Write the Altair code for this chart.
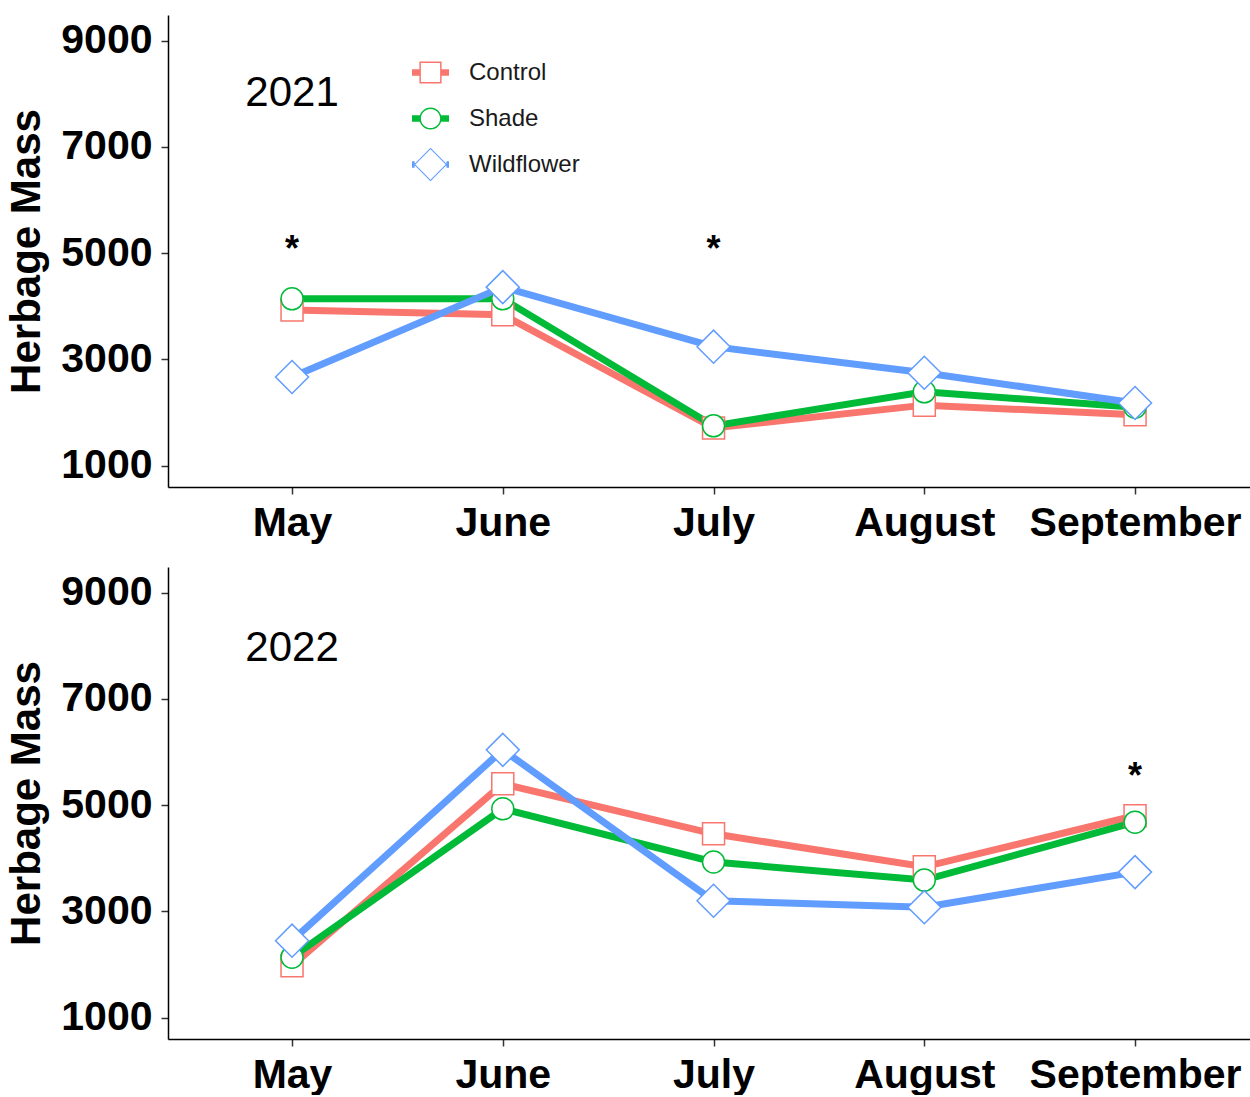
import altair as alt
import pandas as pd

# ---------------- data ----------------
months = ["May", "June", "July", "August", "September"]
treatments = ["Control", "Shade", "Wildflower"]
colors = ["#F8766D", "#00BA38", "#619CFF"]
shapes = ["square", "circle", "diamond"]
marker_sizes = [484, 484, 1089]

control_2021 = [3930, 3840, 1710, 2140, 1960]
shade_2021 = [4140, 4140, 1750, 2390, 2100]
wildflower_2021 = [2670, 4360, 3240, 2750, 2180]

control_2022 = [1980, 5400, 4460, 3840, 4800]
shade_2022 = [2140, 4930, 3930, 3590, 4680]
wildflower_2022 = [2450, 6040, 3200, 3080, 3740]

star_2021_months = ["May", "July"]
star_2021_y = [4860, 4860]
star_2022_months = ["September"]
star_2022_y = [5320]

year_labels = ["2021", "2022"]
year_label_month = ["May", "May"]
year_label_y = [7760, 7720]

y_ticks = [1000, 3000, 5000, 7000, 9000]
y_domain = [600, 9480]

# legend symbols: line segment + open marker (custom paths in a [-1,1] box)
legend_paths = [
    "M-1,-0.17H-0.6V0.17H-1Z M0.6,-0.17H1V0.17H0.6Z "
    "M-0.6,-0.6H0.6V0.6H-0.6Z M-0.52,-0.52V0.52H0.52V-0.52Z "
    "M0,-1L0,-1M0,1L0,1",
    "M-1,-0.17H-0.58V0.17H-1Z M0.58,-0.17H1V0.17H0.58Z "
    "M0.6,0A0.6,0.6,0,1,1,-0.6,0A0.6,0.6,0,1,1,0.6,0Z "
    "M0.52,0A0.52,0.52,0,1,0,-0.52,0A0.52,0.52,0,1,0,0.52,0Z "
    "M0,-1L0,-1M0,1L0,1",
    "M-1,-0.17H-0.86V0.17H-1Z M0.86,-0.17H1V0.17H0.86Z "
    "M-0.9,0L0,-0.9L0.9,0L0,0.9Z M-0.82,0L0,0.82L0.82,0L0,-0.82Z "
    "M0,-1L0,-1M0,1L0,1",
]


def make_df(series):
    rows = []
    for t, vals in zip(treatments, series):
        for m, v in zip(months, vals):
            rows.append({"Month": m, "Treatment": t, "Mass": v})
    return pd.DataFrame(rows)


df21 = make_df([control_2021, shade_2021, wildflower_2021])
df22 = make_df([control_2022, shade_2022, wildflower_2022])
stars21 = pd.DataFrame({"Month": star_2021_months, "Mass": star_2021_y, "label": "*"})
stars22 = pd.DataFrame({"Month": star_2022_months, "Mass": star_2022_y, "label": "*"})
year21 = pd.DataFrame({"Month": [year_label_month[0]], "Mass": [year_label_y[0]], "label": [year_labels[0]]})
year22 = pd.DataFrame({"Month": [year_label_month[1]], "Mass": [year_label_y[1]], "label": [year_labels[1]]})

FONT = "Liberation Sans"
W, H = 1082, 472


def panel(df, stars, year, with_legend):
    x = alt.X(
        "Month:N", sort=months,
        scale=alt.Scale(type="point", padding=0.567, align=0.519, domain=months),
        axis=alt.Axis(title=None, labelAngle=0, labelPadding=9, labelOverlap=False,
                      labelLimit=400),
    )
    y = alt.Y(
        "Mass:Q",
        scale=alt.Scale(domain=y_domain, nice=False, zero=False),
        axis=alt.Axis(values=y_ticks, format="d", title="Herbage Mass",
                      labelPadding=9, titlePadding=12, titleFontSize=42),
    )
    layers = []
    for t, c in zip(treatments, colors):
        layers.append(
            alt.Chart(df).transform_filter(alt.datum.Treatment == t)
            .mark_line(color=c, strokeWidth=7, strokeJoin="miter")
            .encode(x=x, y=y)
        )
    for t, c, s, sz in zip(treatments, colors, shapes, marker_sizes):
        layers.append(
            alt.Chart(df).transform_filter(alt.datum.Treatment == t)
            .mark_point(shape=s, size=sz, fill="white", fillOpacity=1, stroke=c,
                        strokeWidth=1.5, opacity=1)
            .encode(x=x, y=y)
        )
    layers.append(
        alt.Chart(stars).mark_text(font=FONT, fontSize=36, fontWeight="bold",
                                   color="black", baseline="alphabetic", align="center")
        .encode(x=x, y=y, text="label:N")
    )
    layers.append(
        alt.Chart(year).mark_text(font=FONT, fontSize=42, color="black",
                                  baseline="alphabetic", align="center")
        .encode(x=x, y=y, text="label:N")
    )
    if with_legend:
        leg = dict(
            title=None, orient="none", legendX=244, legendY=39,
            labelFont=FONT, labelFontSize=24, labelColor="#1a1a1a",
            symbolSize=1369, symbolStrokeWidth=0, labelOffset=20,
            rowPadding=9, padding=0,
        )
        layers.append(
            alt.Chart(df).transform_filter("false")
            .mark_point(filled=True, size=1369, strokeWidth=0, opacity=1)
            .encode(
                x=x, y=y,
                color=alt.Color("Treatment:N",
                                scale=alt.Scale(domain=treatments, range=colors),
                                legend=alt.Legend(**leg)),
                shape=alt.Shape("Treatment:N",
                                scale=alt.Scale(domain=treatments, range=legend_paths),
                                legend=alt.Legend(**leg)),
            )
        )
    return alt.layer(*layers).properties(width=W, height=H)


top = panel(df21, stars21, year21, True)
bottom = panel(df22, stars22, year22, False)

chart = (
    alt.vconcat(top, bottom, spacing=24)
    .properties(padding={"left": 5, "top": 15, "right": 0, "bottom": 0}, background="white")
    .configure_view(stroke=None)
    .configure_axis(
        domainColor="black", domainWidth=1.5, tickColor="#333333", tickWidth=1.5,
        tickSize=7, labelFont=FONT, labelFontWeight="bold", labelFontSize=41,
        labelColor="black", titleFont=FONT, titleFontWeight="bold", titleFontSize=42,
        titleColor="black", grid=False,
    )
)

chart.save("out.html", embed_options={"renderer": "svg", "actions": False})
